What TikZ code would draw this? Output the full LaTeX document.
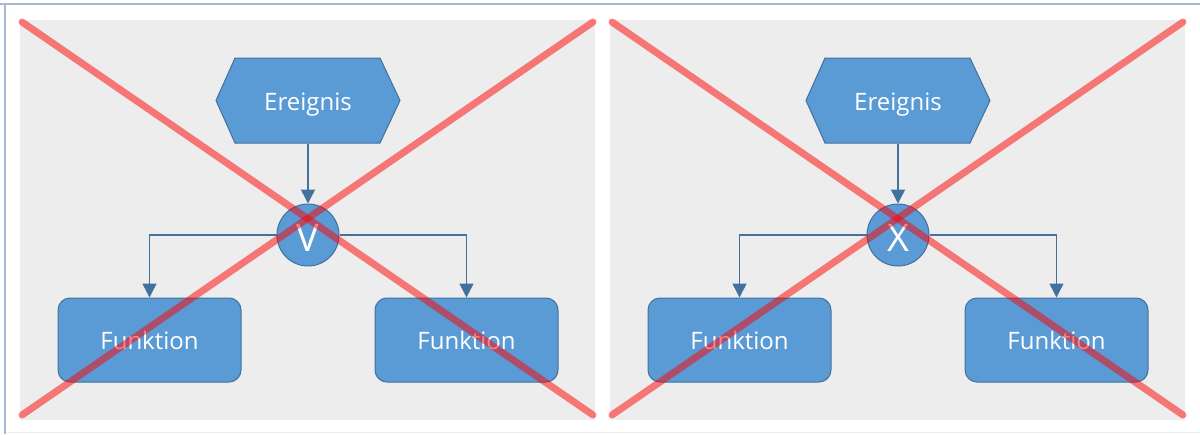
\documentclass[tikz,border=0pt]{standalone}
\usepackage{fontspec}
\setmainfont{Open Sans}
\usetikzlibrary{arrows.meta}
\definecolor{panelcol}{HTML}{EDEDED}
\definecolor{shapecol}{HTML}{5B9BD5}
\definecolor{edgecol}{HTML}{41719C}
\definecolor{framecol}{HTML}{A7BAD0}
\colorlet{crosscol}{red}

\tikzset{
  evshape/.style={fill=shapecol, draw=edgecol, line width=1pt},
  evlabel/.style={inner sep=0pt, minimum width=145pt, minimum height=85pt, text=white, text height=25pt, text depth=5pt, font=\fontsize{24}{24}\selectfont},
  fnbox/.style={shape=rectangle, rounded corners=12pt, fill=shapecol, draw=edgecol, line width=1pt, minimum width=183pt, minimum height=84pt, inner sep=0pt, text=white, font=\fontsize{24}{24}\selectfont},
  opcircle/.style={shape=circle, fill=shapecol, draw=edgecol, line width=1pt, minimum size=62pt, inner sep=0pt, text=white, text height=32pt, text depth=0pt, font=\fontsize{38}{38}\selectfont},
  flow/.style={draw=edgecol, line width=1.5pt, -{Triangle[width=14pt,length=14pt]}},
  cross/.style={draw=crosscol, opacity=.5, line width=7pt, line cap=round}
}

\begin{document}
\begin{tikzpicture}[x=1pt, y=-1pt]
		\useasboundingbox (0,0) rectangle (1200,434);
		% frame
		\draw[framecol, line width=2pt] (0,3.5) -- (1200,3.5);
		\draw[framecol, line width=2pt] (4.5,3.5) -- (4.5,434);
		\draw[black!8, line width=1pt] (6,432) -- (1200,432);
		% two panels, or and xor
		\foreach \i/\dx/\op in {1/0/V, 2/590/X} {
			\fill[panelcol] (20+\dx,20) rectangle (595+\dx,420);
			\draw[evshape] (216+\dx,100.5) -- (235+\dx,58) -- (380+\dx,58) -- (400+\dx,100.5) -- (380+\dx,143) -- (235+\dx,143) -- cycle
			(308+\dx,100.5) node[evlabel] (ev\i) {Ereignis};
			\node[opcircle] (op\i) at (308+\dx,235) {\op};
			\node[fnbox] (fa\i) at (149.5+\dx,340) {Funktion};
			\node[fnbox] (fb\i) at (466.5+\dx,340) {Funktion};
			\draw[flow] (ev\i) -- (op\i);
			\draw[flow] (op\i.west) -| (fa\i.north);
			\draw[flow] (op\i.east) -| (fb\i.north);
			% crossed out
			\draw[cross] (22+\dx,22) -- (593+\dx,415);
			\draw[cross] (593+\dx,22) -- (22+\dx,415);
		}
	\end{tikzpicture}
\end{document}
